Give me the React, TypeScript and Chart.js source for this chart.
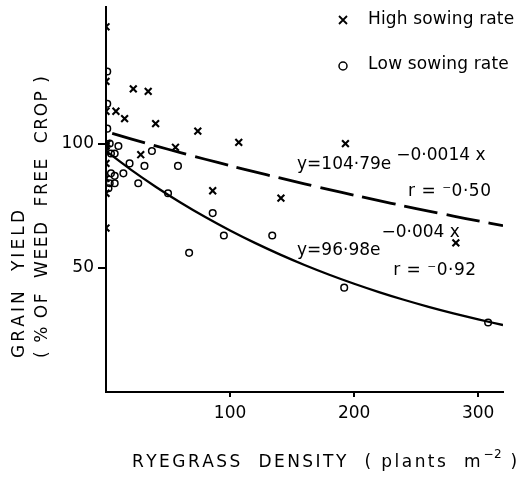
import React, { useEffect, useRef } from 'react';
import { Chart, registerables } from 'chart.js';

Chart.register(...registerables);

// ---- data ----
const highX = [0, 0, 0, 8, 15, 22, 34, 40, 0, 1, 0, 28, 0, 0, 0, 56, 74, 86, 107, 0, 141, 193, 282];
const highY = [147, 125, 113, 113, 110, 122, 121, 108, 99, 100, 97, 95.5, 92, 86, 80, 98.5, 105, 81, 100.5, 66, 78, 100, 60];

const lowX = [1, 1, 1, 3, 10, 4, 7, 37, 19, 31, 58, 4, 7, 14, 3, 7, 2, 26, 50, 86, 67, 95, 134, 192, 308];
const lowY = [129, 116, 106, 100, 99, 96, 96, 97, 92, 91, 91, 88, 87, 88, 84, 84, 82, 84, 80, 72, 56, 63, 63, 42, 28];

// fitted curves (values of the printed equations)
const highFitX = [5, 20, 40, 60, 80, 100, 120, 140, 160, 180, 200, 220, 240, 260, 280, 300, 320];
const highFitY = [104.06, 101.9, 99.08, 96.34, 93.68, 91.1, 88.59, 86.14, 83.76, 81.45, 79.2, 77.01, 74.88, 72.82, 70.81, 68.85, 66.95];
const lowFitX = [0, 20, 40, 60, 80, 100, 120, 140, 160, 180, 200, 220, 240, 260, 280, 300, 320];
const lowFitY = [96.98, 89.52, 82.64, 76.29, 70.42, 65.01, 60.01, 55.4, 51.14, 47.21, 43.58, 40.23, 37.13, 34.28, 31.65, 29.21, 26.96];

const xTicks = [100, 200, 300];
const yTicks = [50, 100];

const legendLabels = ['High sowing rate', 'Low sowing rate'];
const highEq = ['y=104·79e', '−0·0014 x', 'r = ⁻0·50'];
const lowEq = ['y=96·98e', '−0·004 x', 'r = ⁻0·92'];
const yTitle = ['GRAIN  YIELD', '( % OF  WEED  FREE  CROP )'];
const xTitle = ['RYEGRASS  DENSITY  ( plants  m', '−2', ' )'];

const FONT = '"DejaVu Sans", sans-serif';

function drawSpaced(ctx: CanvasRenderingContext2D, text: string, x: number, y: number, spacing: number): number {
  let cx = x;
  for (const ch of Array.from(text)) {
    ctx.fillText(ch, cx, y);
    cx += ctx.measureText(ch).width + spacing;
  }
  return cx - spacing;
}

function spacedWidth(ctx: CanvasRenderingContext2D, text: string, spacing: number): number {
  let w = 0;
  const chars = Array.from(text);
  for (const ch of chars) w += ctx.measureText(ch).width;
  return w + spacing * (chars.length - 1);
}

const textPlugin = {
  id: 'textPlugin',
  afterDraw(chart: any) {
    const ctx: CanvasRenderingContext2D = chart.ctx;
    const xs = chart.scales.x;
    const ys = chart.scales.y;
    ctx.save();
    ctx.fillStyle = '#000';
    ctx.strokeStyle = '#000';
    ctx.textBaseline = 'middle';
    ctx.textAlign = 'left';

    // legend
    const lx = 343;
    const ly1 = 20;
    const ly2 = 66;
    ctx.lineWidth = 1.8;
    ctx.beginPath();
    ctx.moveTo(lx - 4, ly1 - 4);
    ctx.lineTo(lx + 4, ly1 + 4);
    ctx.moveTo(lx + 4, ly1 - 4);
    ctx.lineTo(lx - 4, ly1 + 4);
    ctx.stroke();
    ctx.lineWidth = 1.5;
    ctx.beginPath();
    ctx.arc(lx, ly2, 4, 0, Math.PI * 2);
    ctx.stroke();
    ctx.font = `17px ${FONT}`;
    drawSpaced(ctx, legendLabels[0], 368, ly1, 0.15);
    drawSpaced(ctx, legendLabels[1], 368, ly2 - 1, 0.15);

    // equations
    ctx.font = `17px ${FONT}`;
    const px = (v: number) => xs.getPixelForValue(v);
    const py = (v: number) => ys.getPixelForValue(v);
    let e = drawSpaced(ctx, highEq[0], px(154), py(91.6), 0);
    drawSpaced(ctx, highEq[1], e + 5, py(95.2), 0);
    drawSpaced(ctx, highEq[2], px(243.5), py(80.8), 0.5);
    e = drawSpaced(ctx, lowEq[0], px(154), py(56.8), 0);
    drawSpaced(ctx, lowEq[1], e + 1, py(64), 0);
    drawSpaced(ctx, lowEq[2], px(231.5), py(48.8), 0.5);

    // y title (rotated)
    ctx.font = `17px ${FONT}`;
    const titles = [
      { text: yTitle[0], x: 20, len: 148 },
      { text: yTitle[1], x: 43, len: 282 },
    ];
    for (const t of titles) {
      ctx.save();
      ctx.translate(t.x, 358);
      ctx.rotate(-Math.PI / 2);
      const chars = Array.from(t.text).length;
      const natural = spacedWidth(ctx, t.text, 0);
      const sp = (t.len - natural) / (chars - 1);
      drawSpaced(ctx, t.text, 0, 0, sp);
      ctx.restore();
    }

    // x title
    ctx.font = `17px ${FONT}`;
    let cx = drawSpaced(ctx, xTitle[0], 132, 463, 2.45);
    ctx.font = `12px ${FONT}`;
    cx = drawSpaced(ctx, xTitle[1], cx + 3, 455, 0.5);
    ctx.font = `17px ${FONT}`;
    drawSpaced(ctx, xTitle[2], cx + 1, 463, 2.45);

    ctx.restore();
  },
};

export default function App() {
  const ref = useRef<HTMLCanvasElement | null>(null);
  useEffect(() => {
    if (!ref.current) return;
    const chart = new Chart(ref.current, {
      type: 'scatter',
      data: {
        datasets: [
          {
            label: 'High sowing rate',
            data: highX.map((x, i) => ({ x, y: highY[i] })),
            pointStyle: 'crossRot',
            pointRadius: 4.8,
            borderColor: '#000',
            backgroundColor: '#000',
            borderWidth: 2.1,
          },
          {
            label: 'Low sowing rate',
            data: lowX.map((x, i) => ({ x, y: lowY[i] })),
            pointStyle: 'circle',
            pointRadius: 3.3,
            borderColor: '#000',
            backgroundColor: 'rgba(0,0,0,0)',
            borderWidth: 1.5,
          },
          {
            label: 'High fit',
            data: highFitX.map((x, i) => ({ x, y: highFitY[i] })),
            showLine: true,
            pointRadius: 0,
            borderColor: '#000',
            borderWidth: 2.8,
            borderDash: [34, 9],
            tension: 0.3,
          },
          {
            label: 'Low fit',
            data: lowFitX.map((x, i) => ({ x, y: lowFitY[i] })),
            showLine: true,
            pointRadius: 0,
            borderColor: '#000',
            borderWidth: 2.3,
            tension: 0.3,
          },
        ],
      },
      options: {
        animation: false,
        responsive: true,
        maintainAspectRatio: false,
        events: [],
        layout: { padding: { left: 8, right: 20, top: 5, bottom: 0 } },
        plugins: { legend: { display: false }, tooltip: { enabled: false } },
        scales: {
          x: {
            type: 'linear',
            min: 0,
            max: 320,
            afterBuildTicks: (s: any) => {
              s.ticks = xTicks.map((v) => ({ value: v }));
            },
            afterFit: (s: any) => {
              s.height = 85;
              s.paddingLeft = 0;
              s.paddingRight = 0;
            },
            grid: { drawOnChartArea: false, drawTicks: true, tickLength: 5, color: '#000', lineWidth: 2 },
            border: { display: true, color: '#000', width: 2 },
            ticks: { color: '#000', font: { family: FONT, size: 17 }, padding: 6, maxRotation: 0 },
          },
          y: {
            type: 'linear',
            min: 0,
            max: 155,
            afterBuildTicks: (s: any) => {
              s.ticks = yTicks.map((v) => ({ value: v }));
            },
            afterFit: (s: any) => {
              s.width = 98;
              s.paddingTop = 0;
              s.paddingBottom = 0;
            },
            grid: { drawOnChartArea: false, drawTicks: true, tickLength: 8, color: '#000', lineWidth: 2 },
            border: { display: true, color: '#000', width: 2 },
            ticks: { color: '#000', font: { family: FONT, size: 17 }, padding: 4 },
          },
        },
      },
      plugins: [textPlugin],
    });
    return () => chart.destroy();
  }, []);
  return (
    <div style={{ position: 'absolute', left: 0, top: 0, width: 523, height: 477, background: '#fff' }}>
      <canvas ref={ref} />
    </div>
  );
}
